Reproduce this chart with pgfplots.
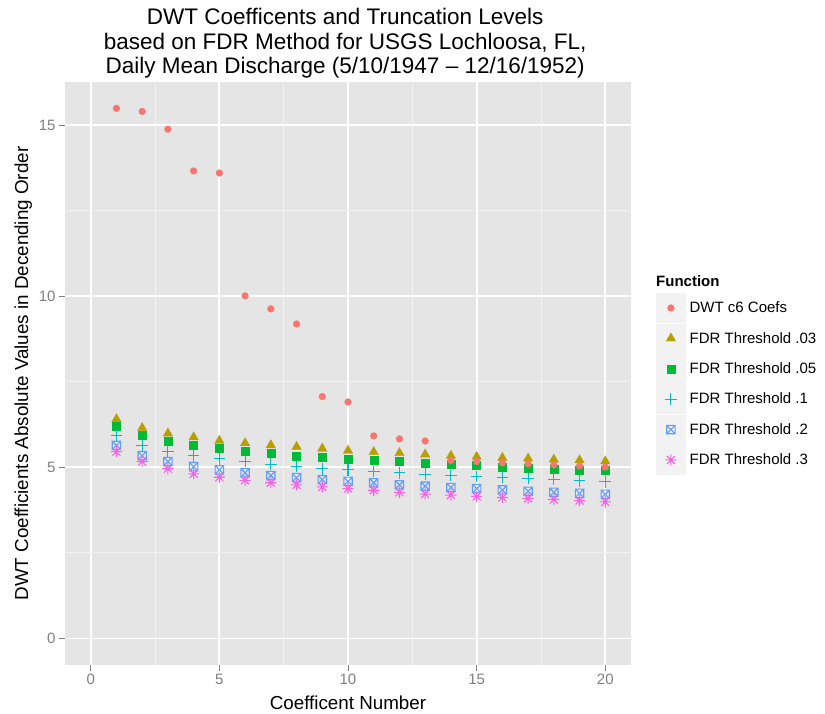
\documentclass[border=0pt]{standalone}
\usepackage{fontspec}
\setmainfont{Liberation Sans}
\usepackage{pgfplots}
\usepackage{pgfplotstable}
\pgfplotsset{compat=1.18}
\definecolor{c1}{HTML}{F8766D}
\definecolor{c2}{HTML}{B79F00}
\definecolor{c3}{HTML}{00BA38}
\definecolor{c4}{HTML}{00BFC4}
\definecolor{c5}{HTML}{619CFF}
\definecolor{c6}{HTML}{F564E3}
\definecolor{panelbg}{HTML}{E5E5E5}
\definecolor{grey95}{HTML}{F2F2F2}
\definecolor{grey50}{HTML}{7F7F7F}
\pgfdeclareplotmark{boxx}{%
  \pgfpathrectangle{\pgfqpoint{-\pgfplotmarksize}{-\pgfplotmarksize}}{\pgfqpoint{2\pgfplotmarksize}{2\pgfplotmarksize}}%
  \pgfpathmoveto{\pgfqpoint{-\pgfplotmarksize}{-\pgfplotmarksize}}%
  \pgfpathlineto{\pgfqpoint{\pgfplotmarksize}{\pgfplotmarksize}}%
  \pgfpathmoveto{\pgfqpoint{-\pgfplotmarksize}{\pgfplotmarksize}}%
  \pgfpathlineto{\pgfqpoint{\pgfplotmarksize}{-\pgfplotmarksize}}%
  \pgfusepathqstroke}
\pgfdeclareplotmark{star8}{%
  \pgfpathmoveto{\pgfqpoint{-\pgfplotmarksize}{0pt}}\pgfpathlineto{\pgfqpoint{\pgfplotmarksize}{0pt}}%
  \pgfpathmoveto{\pgfqpoint{0pt}{-\pgfplotmarksize}}\pgfpathlineto{\pgfqpoint{0pt}{\pgfplotmarksize}}%
  \pgfpathmoveto{\pgfqpoint{-0.7071\pgfplotmarksize}{-0.7071\pgfplotmarksize}}\pgfpathlineto{\pgfqpoint{0.7071\pgfplotmarksize}{0.7071\pgfplotmarksize}}%
  \pgfpathmoveto{\pgfqpoint{-0.7071\pgfplotmarksize}{0.7071\pgfplotmarksize}}\pgfpathlineto{\pgfqpoint{0.7071\pgfplotmarksize}{-0.7071\pgfplotmarksize}}%
  \pgfusepathqstroke}
\pgfplotstableread{
x  dwt   t03  t05  t10  t20  t30
1  15.49 6.41 6.20 5.93 5.64 5.46
2  15.40 6.15 5.94 5.64 5.34 5.17
3  14.88 5.99 5.76 5.47 5.17 4.96
4  13.66 5.88 5.65 5.34 5.02 4.81
5  13.60 5.78 5.56 5.25 4.93 4.71
6  10.01 5.71 5.48 5.17 4.84 4.62
7  9.63  5.65 5.42 5.09 4.76 4.55
8  9.19  5.60 5.34 5.02 4.70 4.49
9  7.07  5.55 5.29 4.96 4.64 4.43
10 6.91  5.49 5.23 4.93 4.59 4.38
11 5.92  5.45 5.21 4.88 4.55 4.33
12 5.83  5.42 5.17 4.84 4.49 4.27
13 5.77  5.38 5.12 4.80 4.45 4.22
14 5.20  5.34 5.08 4.76 4.41 4.19
15 5.17  5.31 5.05 4.73 4.38 4.15
16 5.13  5.28 5.01 4.70 4.34 4.12
17 5.10  5.26 4.98 4.67 4.30 4.09
18 5.07  5.23 4.95 4.64 4.27 4.06
19 5.04  5.21 4.93 4.61 4.24 4.03
20 5.01  5.18 4.91 4.58 4.21 3.99
}\datatable
\begin{document}
\begin{tikzpicture}
\begin{axis}[
  scale only axis, width=566bp, height=583bp,
  xmin=-1, xmax=21, ymin=-0.775, ymax=16.26,
  xtick={0,5,10,15,20}, ytick={0,5,10,15},
  minor xtick={2.5,7.5,12.5,17.5}, minor ytick={2.5,7.5,12.5},
  grid=both,
  major grid style={white, line width=1.8bp},
  minor grid style={grey95, line width=0.9bp},
  minor tick length=0pt,
  major tick length=6bp,
  tick align=outside,
  xtick pos=left, ytick pos=left,
  tick style={grey50, line width=1bp},
  axis line style={draw=none},
  axis background/.style={fill=panelbg},
  tick label style={font=\fontsize{15bp}{18bp}\selectfont, text=grey50},
  /pgf/number format/assume math mode=true,
  xlabel={Coefficent Number},
  ylabel={DWT Coefficients Absolute Values in Decending Order},
  label style={font=\fontsize{18.8bp}{22bp}\selectfont},
  xlabel style={yshift=-4bp},
  clip=false,
  legend cell align=left,
  legend style={at={(1.0442,0.638)}, anchor=north west, draw=none, fill=none,
    inner sep=0pt, row sep=1bp, column sep=4bp,
    nodes={inner sep=0pt}, font=\fontsize{15bp}{18bp}\selectfont},
  legend image code/.code={
    \fill[grey95] (0bp,-14.5bp) rectangle (29bp,14.5bp);
    \draw[#1] plot coordinates {(14.5bp,0bp)};
  },
]
\addlegendimage{only marks, mark=*, color=c1, mark size=3.4bp, mark options={line width=0.3bp}}
\addlegendentry{DWT c6 Coefs}
\addplot[only marks, mark=triangle*, color=c2, mark size=5.5bp, mark options={line width=0.3bp}] table[x=x, y=t03] {\datatable};
\addlegendentry{FDR Threshold .03}
\addplot[only marks, mark=square*, color=c3, mark size=4bp, mark options={line width=0.3bp}] table[x=x, y=t05] {\datatable};
\addlegendentry{FDR Threshold .05}
\addplot[only marks, mark=+, color=c4, mark size=5.8bp, mark options={line width=1.1bp}] table[x=x, y=t10] {\datatable};
\addlegendentry{FDR Threshold .1}
\addplot[only marks, mark=boxx, color=c5, mark size=4.2bp, mark options={line width=1.1bp}] table[x=x, y=t20] {\datatable};
\addlegendentry{FDR Threshold .2}
\addplot[only marks, mark=star8, color=c6, mark size=5.6bp, mark options={line width=1.1bp}] table[x=x, y=t30] {\datatable};
\addlegendentry{FDR Threshold .3}
\addplot[only marks, mark=*, color=c1, mark size=3.4bp, mark options={line width=0.3bp}, forget plot] table[x=x, y=dwt] {\datatable};
\node[anchor=base west, inner sep=0pt, font=\fontsize{15bp}{18bp}\selectfont\bfseries] at (axis description cs:1.0442,0.650) {Function};
\node[anchor=south, inner sep=0pt, align=center, yshift=3.3bp, font=\fontsize{22.5bp}{24.5bp}\selectfont] at (axis description cs:0.495,1) {DWT Coefficents and Truncation Levels\\based on FDR Method for USGS Lochloosa, FL,\\Daily Mean Discharge (5/10/1947 -- 12/16/1952)};
\end{axis}
\pgfresetboundingbox
\path[use as bounding box] ([shift={(-65bp,-49bp)}]current axis.south west) rectangle ([shift={(194bp,82bp)}]current axis.north east);
\end{tikzpicture}
\end{document}
